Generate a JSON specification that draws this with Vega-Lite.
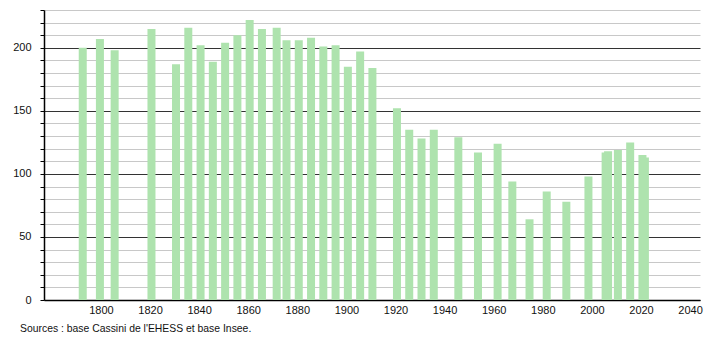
{
  "$schema": "https://vega.github.io/schema/vega-lite/v6.json",
  "width": 656,
  "height": 290,
  "autosize": {"type": "none"},
  "padding": {"left": 44, "top": 10, "right": 10, "bottom": 40},
  "background": "white",
  "config": {
    "view": {"stroke": null},
    "font": "Liberation Sans"
  },
  "title": {
    "text": "Sources : base Cassini de l'EHESS et base Insee.",
    "orient": "bottom",
    "anchor": "start",
    "frame": "group",
    "dx": -24,
    "offset": 9,
    "fontSize": 10.4,
    "fontWeight": "normal",
    "font": "Liberation Sans",
    "color": "#111"
  },
  "data": {
    "values": [
      {"year": 1793, "pop": 200},
      {"year": 1800, "pop": 207},
      {"year": 1806, "pop": 198},
      {"year": 1821, "pop": 215},
      {"year": 1831, "pop": 187},
      {"year": 1836, "pop": 216},
      {"year": 1841, "pop": 202},
      {"year": 1846, "pop": 189},
      {"year": 1851, "pop": 204},
      {"year": 1856, "pop": 210},
      {"year": 1861, "pop": 222},
      {"year": 1866, "pop": 215},
      {"year": 1872, "pop": 216},
      {"year": 1876, "pop": 206},
      {"year": 1881, "pop": 206},
      {"year": 1886, "pop": 208},
      {"year": 1891, "pop": 201},
      {"year": 1896, "pop": 202},
      {"year": 1901, "pop": 185},
      {"year": 1906, "pop": 197},
      {"year": 1911, "pop": 184},
      {"year": 1921, "pop": 152},
      {"year": 1926, "pop": 135},
      {"year": 1931, "pop": 128},
      {"year": 1936, "pop": 135},
      {"year": 1946, "pop": 129},
      {"year": 1954, "pop": 117},
      {"year": 1962, "pop": 124},
      {"year": 1968, "pop": 94},
      {"year": 1975, "pop": 64},
      {"year": 1982, "pop": 86},
      {"year": 1990, "pop": 78},
      {"year": 1999, "pop": 98},
      {"year": 2006, "pop": 117},
      {"year": 2007, "pop": 118},
      {"year": 2011, "pop": 119},
      {"year": 2016, "pop": 125},
      {"year": 2021, "pop": 115},
      {"year": 2022, "pop": 113}
    ]
  },
  "mark": {"type": "bar", "width": 8, "color": "#aee3ae", "xOffset": -1},
  "encoding": {
    "x": {
      "field": "year",
      "type": "quantitative",
      "scale": {"domain": [1778.85, 2042.0], "nice": false, "zero": false},
      "axis": {
        "title": null,
        "values": [1800, 1820, 1840, 1860, 1880, 1900, 1920, 1940, 1960, 1980, 2000, 2020, 2040],
        "format": "d",
        "ticks": false,
        "grid": false,
        "domainColor": "#000",
        "domainWidth": 1.5,
        "labelFontSize": 11,
        "labelColor": "#111",
        "labelPadding": 4,
        "labelFont": "Liberation Sans"
      }
    },
    "y": {
      "field": "pop",
      "type": "quantitative",
      "scale": {"domain": [0, 230], "nice": false},
      "axis": {
        "title": null,
        "values": [0, 10, 20, 30, 40, 50, 60, 70, 80, 90, 100, 110, 120, 130, 140, 150, 160, 170, 180, 190, 200, 210, 220, 230],
        "labelExpr": "datum.value % 50 === 0 ? datum.label : ''",
        "grid": true,
        "gridColor": {"condition": {"test": "datum.value % 50 === 0", "value": "#333333"}, "value": "#c8c8c8"},
        "gridWidth": 1,
        "tickSize": 4,
        "tickColor": "#000",
        "domainColor": "#000",
        "domainWidth": 1.5,
        "labelFontSize": 11,
        "labelColor": "#111",
        "labelPadding": 9,
        "labelFont": "Liberation Sans"
      }
    }
  }
}
